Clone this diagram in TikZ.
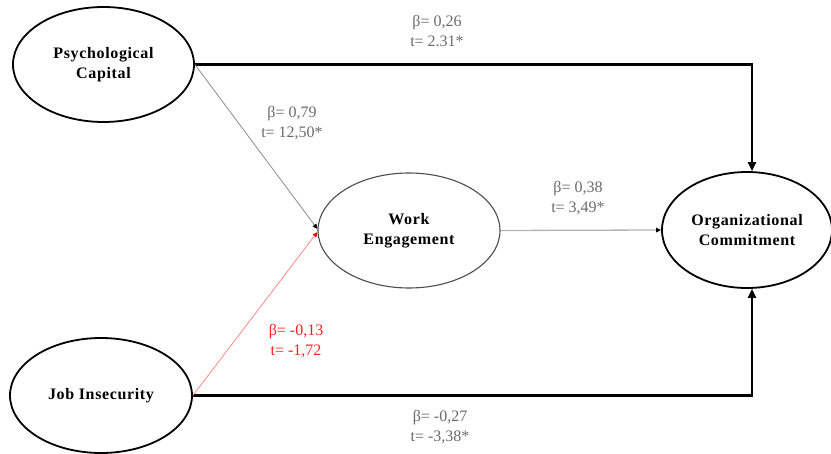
\documentclass[tikz,border=0pt]{standalone}
\usepackage{fontspec}
\setmainfont{Liberation Serif}
\usetikzlibrary{shapes.geometric,arrows.meta}
\definecolor{lblgray}{HTML}{6A6A6A}
\definecolor{lblred}{HTML}{FF2222}
\definecolor{linegray}{HTML}{8C8C8C}
\definecolor{lightline}{HTML}{B4B4B4}
\definecolor{redline}{HTML}{FF8A8A}
\begin{document}
\begin{tikzpicture}[x=1pt,y=-1pt,
  var/.style={ellipse, draw=black, line width=1.8pt, inner sep=0pt, align=center,
    font=\fontsize{16}{20.5}\selectfont\bfseries\addfontfeature{LetterSpace=4}},
  lbl/.style={align=center, text=lblgray, font=\fontsize{16}{20.5}\selectfont},
  mainarrow/.style={line width=2.4pt, -{Triangle[length=9pt,width=8pt]}},
  minorarrow/.style={line width=0.8pt}
]
\useasboundingbox (0,0) rectangle (831,454);
\node[var, minimum width=181pt, minimum height=115pt] (pc) at (103.5,64.5) {Psychological\\Capital};
\node[var, minimum width=182pt, minimum height=115pt] (ji) at (101,395.5) {Job Insecurity};
\node[var, draw=black!70, line width=1.1pt, minimum width=182pt, minimum height=115pt] (we) at (409,230.5) {Work\\Engagement};
\node[var, minimum width=170pt, minimum height=116pt] (oc) at (747,230) {Organizational\\Commitment};

\draw[mainarrow] (pc.east) -| ([xshift=5pt]oc.north);
\draw[mainarrow] (ji.east) -| ([xshift=5pt]oc.south);
\draw[minorarrow, draw=linegray, -{Triangle[length=5pt,width=4.5pt,color=black]}] (pc.east) -- ([yshift=1.5pt]we.west);
\draw[minorarrow, draw=redline, -{Triangle[length=5pt,width=4.5pt,color=red]}] (ji.east) -- ([yshift=-1.5pt]we.west);
\draw[minorarrow, draw=lightline, line width=1.3pt, -{Triangle[length=5pt,width=4.5pt,color=black]}] (we.east) -- (oc.west);

\node[lbl] (l1) at (437,31) {β= 0,26\\t= 2.31*};
\node[lbl] (l2) at (292,123) {β= 0,79\\t= 12,50*};
\node[lbl] (l3) at (578,198) {β= 0,38\\t= 3,49*};
\node[lbl, text=lblred] (l4) at (296,341) {β= -0,13\\t= -1,72};
\node[lbl] (l5) at (440,427) {β= -0,27\\t= -3,38*};
\end{tikzpicture}
\end{document}
